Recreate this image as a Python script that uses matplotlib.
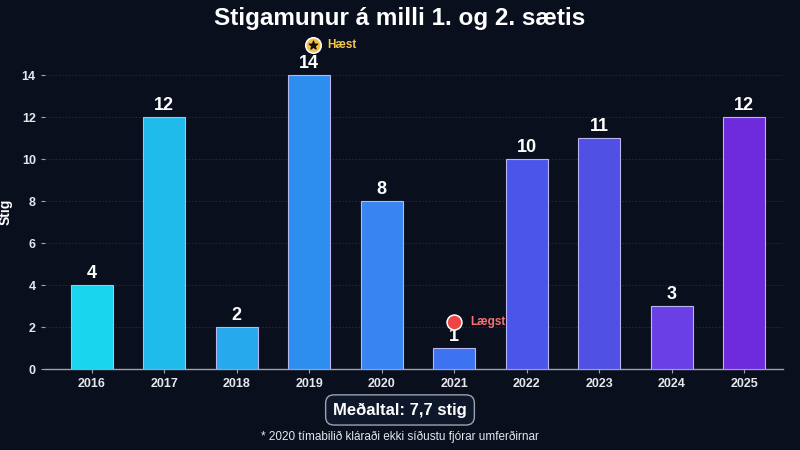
import matplotlib
matplotlib.use("Agg")
import matplotlib.pyplot as plt

years = ["2016", "2017", "2018", "2019", "2020", "2021", "2022", "2023", "2024", "2025"]
diffs = [4, 12, 2, 14, 8, 1, 10, 11, 3, 12]
bar_colors = ["#19d6ee", "#1fbbea", "#27a9ee", "#2e8ef0", "#3884f3", "#3d72f0",
              "#4a56ea", "#5050e4", "#6840e6", "#6d2bdd"]
mean_text = "Meðaltal: 7,7 stig"
footnote = "* 2020 tímabilið kláraði ekki síðustu fjórar umferðirnar"
title = "Stigamunur á milli 1. og 2. sætis"

BG = "#0a0f1e"
plt.rcParams['font.family'] = ['Liberation Sans', 'DejaVu Sans']

fig = plt.figure(figsize=(8, 4.5), dpi=100, facecolor=BG)
ax = fig.add_axes([0.056, 0.18, 0.923, 0.70])
ax.set_facecolor(BG)

x = list(range(len(years)))
ax.bar(x, diffs, width=0.58, color=bar_colors, edgecolor="#b9b5f0",
       linewidth=0.8, zorder=3)

for xi, v in zip(x, diffs):
    ax.text(xi, v + 0.12, str(v), ha="center", va="bottom", color="white",
            fontsize=13, fontweight="bold", zorder=5)

ax.set_xlim(-0.65, 9.54)
ax.set_ylim(0, 15)
ax.set_yticks(range(0, 15, 2))
ax.set_xticks(x)
ax.set_xticklabels(years)
ax.tick_params(axis="both", colors="#9ca3af", labelcolor="#e5e7eb",
               labelsize=9, length=3, width=0.8)
for lab in ax.get_xticklabels() + ax.get_yticklabels():
    lab.set_fontweight("bold")
for s in ["top", "right", "left"]:
    ax.spines[s].set_visible(False)
ax.spines["bottom"].set_color("#9ca3af")
ax.spines["bottom"].set_linewidth(1.0)
ax.yaxis.grid(True, color="#262e44", linestyle=(0, (2, 2)), linewidth=0.6, zorder=0)
ax.set_axisbelow(True)
ax.set_ylabel("Stig", color="white", fontsize=10, fontweight="bold")
ax.yaxis.set_label_coords(-0.043, 0.5)

# Highest marker
imax = diffs.index(max(diffs))
ymark = max(diffs) + 1.45
ax.scatter([imax + 0.05], [ymark], s=125, color="#f5c04a",
           edgecolor="white", linewidth=1.1, zorder=6, clip_on=False)
ax.scatter([imax + 0.05], [ymark], s=38, marker="*", color="#111111",
           zorder=7, clip_on=False)
ax.text(imax + 0.25, ymark, "Hæst", color="#f5c84a", fontsize=8.5,
        fontweight="bold", va="center", ha="left", clip_on=False)

# Lowest marker
imin = diffs.index(min(diffs))
ylow = min(diffs) + 1.25
ax.scatter([imin], [ylow], s=115, color="#ef4444",
           edgecolor="white", linewidth=1.1, zorder=6, clip_on=False)
ax.text(imin + 0.22, ylow, "Lægst", color="#f87171", fontsize=8.5,
        fontweight="bold", va="center", ha="left")

fig.text(0.5, 0.96, title, ha="center", va="center", color="white",
         fontsize=17.5, fontweight="bold")

fig.text(0.5, 0.089, mean_text, ha="center", va="center", color="white",
         fontsize=12, fontweight="bold",
         bbox=dict(boxstyle="round,pad=0.45,rounding_size=0.5", facecolor="#0f172a",
                   edgecolor="#9ca3af", linewidth=1.0))
fig.text(0.5, 0.029, footnote, ha="center", va="center", color="#e5e7eb",
         fontsize=8.5)

fig.savefig("out.png", dpi=100, facecolor=BG)
